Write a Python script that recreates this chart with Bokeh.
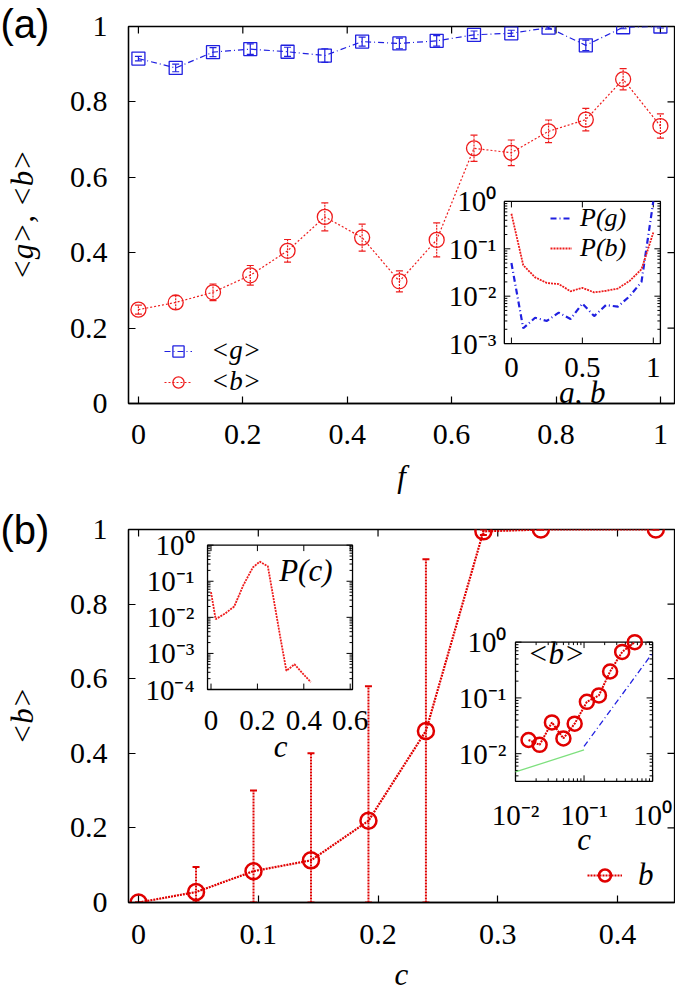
import numpy as np
from bokeh.plotting import figure
from bokeh.layouts import column
from bokeh.models import (Range1d, LinearAxis, Legend, LegendItem, FixedTicker, Title)
from bokeh.embed import file_html
from bokeh.resources import INLINE
from bokeh.core.properties import value

SERIF = "Liberation Serif"
SANS = "Liberation Sans"
RED = "#ee1c1c"
RED2 = "#e00000"
BLUE = "#2020e0"
GREEN = "#7ee07e"

# ---------------- panel (a) data ----------------
f_vals = [0.0, 0.0714, 0.1429, 0.2143, 0.2857, 0.3571, 0.4286, 0.5, 0.5714,
          0.6429, 0.7143, 0.7857, 0.8571, 0.9286, 1.0]
g_mean = [0.915, 0.890, 0.932, 0.940, 0.933, 0.923, 0.960, 0.955, 0.962,
          0.978, 0.982, 0.997, 0.950, 0.998, 1.000]
g_err = [0.006, 0.010, 0.012, 0.014, 0.012, 0.018, 0.012, 0.014, 0.014,
         0.010, 0.008, 0.004, 0.014, 0.004, 0.004]
b_mean = [0.249, 0.268, 0.295, 0.340, 0.405, 0.495, 0.440, 0.324, 0.434,
          0.677, 0.665, 0.722, 0.753, 0.860, 0.736]
b_err = [0.012, 0.018, 0.022, 0.026, 0.030, 0.037, 0.036, 0.028, 0.045,
         0.035, 0.034, 0.030, 0.030, 0.028, 0.032]

# inset (a): distributions P(g), P(b)
gb_vals = [0.0, 0.0833, 0.1667, 0.25, 0.3333, 0.4167, 0.5, 0.5833, 0.6667,
           0.75, 0.8333, 0.9167, 1.0]
Pg_vals = [0.05, 0.0021, 0.0035, 0.0030, 0.0045, 0.0033, 0.0070, 0.0038, 0.0065,
           0.0060, 0.0100, 0.0200, 1.0]
Pb_vals = [0.55, 0.045, 0.025, 0.019, 0.018, 0.0127, 0.015, 0.012, 0.013,
           0.0145, 0.021, 0.037, 0.22]

# ---------------- panel (b) data ----------------
c_vals = [0.0, 0.048, 0.096, 0.144, 0.192, 0.24, 0.288, 0.336, 0.432]
bc_mean = [0.0, 0.028, 0.084, 0.113, 0.219, 0.46, 0.995, 1.0, 1.0]
bc_low = [0.0, 0.0, 0.0, 0.0, 0.0, 0.0, 0.985, 1.0, 1.0]
bc_high = [0.0, 0.095, 0.30, 0.40, 0.58, 0.92, 1.0, 1.0, 1.0]

# inset (b) left: P(c)
pc_c = [0.0, 0.02, 0.06, 0.10, 0.14, 0.18, 0.21, 0.245, 0.27, 0.30, 0.325, 0.36, 0.395, 0.43]
pc_p = [0.05, 0.0089, 0.0126, 0.020, 0.079, 0.24, 0.35, 0.26, 0.032, 0.0025,
        0.00033, 0.0005, 0.00028, 0.00016]

# inset (b) right: <b> vs c, log-log
ib_c = [0.0155, 0.0225, 0.034, 0.050, 0.073, 0.110, 0.165, 0.240, 0.360, 0.550]
ib_b = [0.0176, 0.0144, 0.0364, 0.0188, 0.0345, 0.085, 0.111, 0.298, 0.668, 1.0]
fit_low_c = [0.01, 0.1]
fit_low_b = [0.0047, 0.0117]
fit_high_c = [0.1, 1.0]
fit_high_b = [0.0135, 0.64]

# tick definitions
a_xticks = [0, 0.2, 0.4, 0.6, 0.8, 1]
a_xlabels = ["0", "0.2", "0.4", "0.6", "0.8", "1"]
y01_ticks = [0, 0.2, 0.4, 0.6, 0.8, 1]
y01_labels = ["0", "0.2", "0.4", "0.6", "0.8", "1"]
b_xticks = [0, 0.1, 0.2, 0.3, 0.4]
b_xlabels = ["0", "0.1", "0.2", "0.3", "0.4"]

ia_xticks = [0, 0.5, 1]
ia_xlabels = ["0", "0.5", "1"]
ia_yticks = [0.001, 0.01, 0.1, 1.0]
ia_ylabels = ["10\u207b\u00b3", "10\u207b\u00b2", "10\u207b\u00b9", "10\u2070"]
ib1_xticks = [0, 0.2, 0.4, 0.6]
ib1_xlabels = ["0", "0.2", "0.4", "0.6"]
ib1_yticks = [0.0001, 0.001, 0.01, 0.1, 1.0]
ib1_ylabels = ["10\u207b\u2074", "10\u207b\u00b3", "10\u207b\u00b2", "10\u207b\u00b9", "10\u2070"]
ib2_xticks = [0.01, 0.1, 1.0]
ib2_xlabels = ["10\u207b\u00b2", "10\u207b\u00b9", "10\u2070"]
ib2_yticks = [0.01, 0.1, 1.0]
ib2_ylabels = ["10\u207b\u00b2", "10\u207b\u00b9", "10\u2070"]

panel_labels = ["(a)", "(b)"]

# ---------------- geometry ----------------
W = 675
BL, BR = 128, 1
FW = W - BL - BR          # frame width in px
HA, TA, BA = 500, 26, 97
HB, TB, BB = 494, 29, 87
FHA = HA - TA - BA
FHB = HB - TB - BB
XA = (-0.019, 1.027)
XB = (-0.0084, 0.4476)
Y01 = (0.0, 1.0)
FONT_TICK = "30px"
FONT_INSET = "29px"


def make_fig(h, xr, bt, bb):
    p = figure(width=W, height=h, x_range=Range1d(*xr), y_range=Range1d(*Y01),
               output_backend="svg", toolbar_location=None,
               min_border_left=BL, min_border_right=BR,
               min_border_top=bt, min_border_bottom=bb,
               x_axis_location=None, y_axis_location=None)
    p.grid.visible = False
    p.outline_line_color = "black"
    p.outline_line_width = 1.3
    p.background_fill_color = "white"
    p.border_fill_color = "white"
    return p


def add_axes(p, xr, fh, xticks, xlabels, xlabel, ylabel, xs1, xs2, plabel, tag_standoff):
    common = dict(major_tick_in=7, major_tick_out=0, minor_tick_in=0, minor_tick_out=0,
                  axis_line_color="black", axis_line_width=1.3,
                  major_tick_line_width=1.2, major_tick_line_color="black",
                  major_label_text_font=SERIF, major_label_text_font_size=FONT_TICK,
                  major_label_text_color="black",
                  axis_label_text_font=SERIF, axis_label_text_font_size="31px",
                  axis_label_text_font_style="italic", axis_label_text_color="black")
    bx = LinearAxis(ticker=FixedTicker(ticks=xticks),
                    major_label_overrides=dict(zip(xticks, xlabels)),
                    axis_label=xlabel, major_label_standoff=xs1, axis_label_standoff=xs2,
                    **common)
    ly = LinearAxis(ticker=FixedTicker(ticks=y01_ticks),
                    major_label_overrides=dict(zip(y01_ticks, y01_labels)),
                    axis_label=ylabel, major_label_standoff=21, axis_label_standoff=27,
                    **common)
    p.add_layout(bx, "below")
    p.add_layout(ly, "left")
    # panel tag "(a)"/"(b)" as a title pulled to the top-left corner
    p.add_layout(Title(text=plabel, align="left", offset=-BL, standoff=tag_standoff,
                       vertical_align="bottom", text_font=SANS, text_font_size="40px",
                       text_font_style="normal", text_color="black"), "above")
    # mirrored inward ticks on the top and right edges
    dy = 7.0 / fh
    dx = 7.0 * (xr[1] - xr[0]) / FW
    p.segment(x0=xticks, x1=xticks, y0=[Y01[1]] * len(xticks),
              y1=[Y01[1] - dy] * len(xticks), line_color="black", line_width=1.2)
    p.segment(x0=[xr[1]] * len(y01_ticks), x1=[xr[1] - dx] * len(y01_ticks),
              y0=y01_ticks, y1=y01_ticks, line_color="black", line_width=1.2)


def T(vals, log):
    arr = np.asarray(vals, dtype=float)
    return list(np.log10(arr)) if log else list(arr)


def make_inset(p, xs, ys, xlog, ylog, xt, yt, wpx, hpx,
               xticks, xlabels, yticks, ylabels, xminor, yminor,
               xlab_off, ylab_off):
    sx0, sx1 = T(xs, xlog)
    sy0, sy1 = T(ys, ylog)
    sub = p.subplot(x_source=Range1d(sx0, sx1), y_source=Range1d(sy0, sy1),
                    x_target=Range1d(*xt), y_target=Range1d(*yt))
    sub.quad(left=[sx0], right=[sx1], bottom=[sy0], top=[sy1],
             fill_color="white", line_color="black", line_width=1.3)
    lx = (sx1 - sx0) / wpx
    ly = (sy1 - sy0) / hpx
    X0, X1, Y0, Y1 = [], [], [], []
    for t, L in [(t, 6) for t in T(xticks, xlog)] + [(t, 3) for t in T(xminor, xlog)]:
        X0 += [t, t]; X1 += [t, t]
        Y0 += [sy0, sy1]; Y1 += [sy0 + L * ly, sy1 - L * ly]
    for t, L in [(t, 6) for t in T(yticks, ylog)] + [(t, 3) for t in T(yminor, ylog)]:
        Y0 += [t, t]; Y1 += [t, t]
        X0 += [sx0, sx1]; X1 += [sx0 + L * lx, sx1 - L * lx]
    sub.segment(x0=X0, y0=Y0, x1=X1, y1=Y1, line_color="black", line_width=1)
    sub.text(x=T(xticks, xlog), y=[sy0] * len(xticks), text=xlabels,
             text_align="center", text_baseline="middle", y_offset=xlab_off,
             text_font=value(SERIF), text_font_size=FONT_INSET, text_color="black")
    sub.text(x=[sx0] * len(yticks), y=T(yticks, ylog), text=ylabels,
             text_align="right", text_baseline="middle", x_offset=ylab_off,
             text_font=value(SERIF), text_font_size=FONT_INSET, text_color="black")
    return sub


def log_minor(lo_exp, hi_exp, vmin=0.0):
    out = []
    for e in range(lo_exp, hi_exp):
        for m in range(2, 10):
            v = m * 10.0 ** e
            if v >= vmin:
                out.append(v)
    return out


def italic_text(sub, x, y, s, align, xo, yo, size="31px"):
    sub.text(x=[x], y=[y], text=[s], text_align=align, text_baseline="middle",
             x_offset=xo, y_offset=yo, text_font=value(SERIF), text_font_size=size,
             text_font_style="italic", text_color="black")


# ======================= panel (a) =======================
pa = make_fig(HA, XA, TA, BA)
add_axes(pa, XA, FHA, a_xticks, a_xlabels, "f", "<g>, <b>", 21, 12, panel_labels[0], -38)

g_lo = [m - e for m, e in zip(g_mean, g_err)]
g_hi = [m + e for m, e in zip(g_mean, g_err)]
b_lo = [m - e for m, e in zip(b_mean, b_err)]
b_hi = [m + e for m, e in zip(b_mean, b_err)]
pa.segment(x0=f_vals, x1=f_vals, y0=g_lo, y1=g_hi, line_color=BLUE, line_width=1.2)
pa.scatter(f_vals, g_lo, marker="dash", size=7, line_color=BLUE, line_width=1.2)
pa.scatter(f_vals, g_hi, marker="dash", size=7, line_color=BLUE, line_width=1.2)
pa.segment(x0=f_vals, x1=f_vals, y0=b_lo, y1=b_hi, line_color=RED, line_width=1.2,
           line_dash="2 1")
pa.scatter(f_vals, b_lo, marker="dash", size=7, line_color=RED, line_width=1.2)
pa.scatter(f_vals, b_hi, marker="dash", size=7, line_color=RED, line_width=1.2)

lg = pa.line(f_vals, g_mean, line_color=BLUE, line_width=1.2, line_dash="6 3 1 3")
sg = pa.scatter(f_vals, g_mean, marker="square", size=13, fill_color=None,
                line_color=BLUE, line_width=1.3)
lb = pa.line(f_vals, b_mean, line_color=RED, line_width=1.2, line_dash="2 2")
sb = pa.scatter(f_vals, b_mean, marker="circle", size=15, fill_color=None,
                line_color=RED, line_width=1.3)

leg_a = Legend(items=[LegendItem(label="<g>", renderers=[lg, sg]),
                      LegendItem(label="<b>", renderers=[lb, sb])],
               location=(36, 6), orientation="vertical",
               label_text_font=SERIF, label_text_font_size="27px",
               label_text_font_style="italic", label_text_color="black",
               glyph_width=28, glyph_height=30, label_height=30, label_standoff=19,
               spacing=0, padding=0, margin=0, border_line_color=None,
               background_fill_alpha=0)
pa.add_layout(leg_a)

# inset (a)
ia = make_inset(pa, (-0.05, 1.05), (0.001, 1.0), False, True,
                (0.701, 1.0), (0.159, 0.536), 156, 142,
                ia_xticks, ia_xlabels, ia_yticks, ia_ylabels, [], log_minor(-3, 0),
                24, -8)
r_pg = ia.line(gb_vals, T(Pg_vals, True), line_color=BLUE, line_width=2.2,
               line_dash="6 3 1 3")
r_pb = ia.line(gb_vals, T(Pb_vals, True), line_color=RED, line_width=1.8, line_dash="2 1")
italic_text(ia, 0.5, -3.0, "g, b", "center", 0, 49)
leg_ia = Legend(items=[LegendItem(label="P(g)", renderers=[r_pg]),
                       LegendItem(label="P(b)", renderers=[r_pb])],
                location=(422, 140), orientation="vertical",
                label_text_font=SERIF, label_text_font_size="26px",
                label_text_font_style="italic", label_text_color="black",
                glyph_width=22, glyph_height=30, label_height=30, label_standoff=8,
                spacing=0, padding=0, margin=0, border_line_color=None,
                background_fill_alpha=0)
pa.add_layout(leg_ia)

# ======================= panel (b) =======================
pb = make_fig(HB, XB, TB, BB)
add_axes(pb, XB, FHB, b_xticks, b_xlabels, "c", "<b>", 22, 10, panel_labels[1], -44)

pb.segment(x0=c_vals, x1=c_vals, y0=bc_low, y1=bc_high, line_color=RED2,
           line_width=2, line_dash="2 1")
pb.scatter(c_vals, bc_low, marker="dash", size=7, line_color=RED2, line_width=2)
pb.scatter(c_vals, bc_high, marker="dash", size=7, line_color=RED2, line_width=2)
lbc = pb.line(c_vals, bc_mean, line_color=RED2, line_width=2.2, line_dash="2 1")
sbc = pb.scatter(c_vals, bc_mean, marker="circle", size=16, fill_color=None,
                 line_color=RED2, line_width=2.5)
leg_b = Legend(items=[LegendItem(label="b", renderers=[lbc, sbc])],
               location=(459, 9), orientation="vertical",
               label_text_font=SERIF, label_text_font_size="31px",
               label_text_font_style="italic", label_text_color="black",
               glyph_width=35, glyph_height=30, label_height=30, label_standoff=16,
               spacing=0, padding=0, margin=0, border_line_color=None,
               background_fill_alpha=0)
pb.add_layout(leg_b)

# inset P(c)
ib1 = make_inset(pb, (-0.015, 0.61), (0.0001, 1.0), False, True,
                 (0.0576, 0.1787), (0.571, 0.958), 145, 146,
                 ib1_xticks, ib1_xlabels, ib1_yticks, ib1_ylabels, [], log_minor(-4, 0),
                 31, -13)
ib1.line(pc_c, T(pc_p, True), line_color=RED, line_width=1.8, line_dash="2 1")
italic_text(ib1, 0.61, 0.0, "P(c)", "right", -20, 25)
italic_text(ib1, 0.3, -4.0, "c", "center", 0, 57)

# inset <b> log-log
ib2 = make_inset(pb, (0.01, 1.0), (0.0032, 1.0), True, True,
                 (0.3148, 0.4293), (0.325, 0.698), 137, 141,
                 ib2_xticks, ib2_xlabels, ib2_yticks, ib2_ylabels,
                 log_minor(-2, 0), log_minor(-3, 0, 0.0032), 34, -9)
ib2.line(T(fit_low_c, True), T(fit_low_b, True), line_color=GREEN, line_width=1.3)
ib2.line(T(fit_high_c, True), T(fit_high_b, True), line_color=BLUE, line_width=1.3,
         line_dash="6 3 1 3")
ib2.line(T(ib_c, True), T(ib_b, True), line_color=RED2, line_width=2, line_dash="2 1")
ib2.scatter(T(ib_c, True), T(ib_b, True), marker="circle", size=14, fill_color=None,
            line_color=RED2, line_width=2.5)
italic_text(ib2, -2.0, 0.0, "<b>", "left", 12, 11)
italic_text(ib2, -1.0, float(np.log10(0.0032)), "c", "center", 0, 58)

layout = column(pa, pb, spacing=0)
open("out.html", "w").write(file_html(layout, INLINE))
